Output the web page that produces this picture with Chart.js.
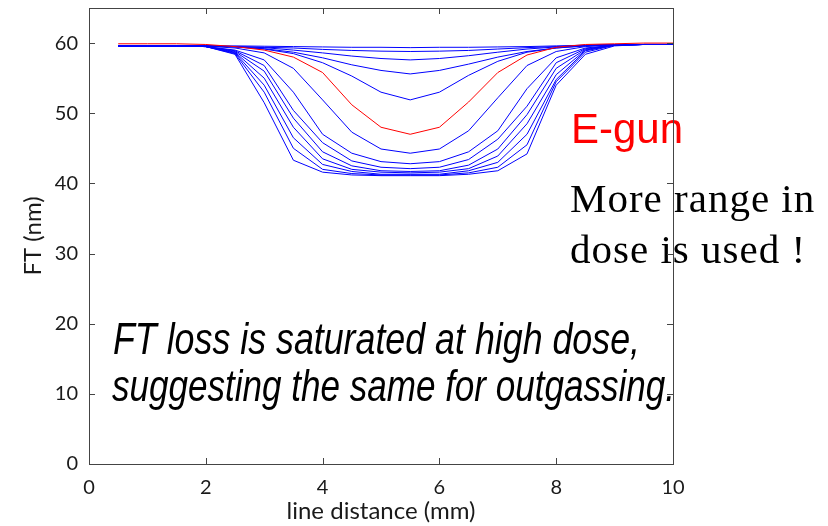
<!DOCTYPE html>
<html>
<head>
    <title>FT vs line distance</title>
    <script src="https://cdn.jsdelivr.net/npm/chart.js"></script>
    <style>
        body { margin: 0; background: white; }
        .wrap { width: 828px; height: 526px; }
    </style>
</head>
<body>
<div class="wrap"><canvas id="ftChart"></canvas></div>
<script>
// line distance (mm)
const distance = [0.5, 1.0, 1.5, 2.0, 2.5, 3.0, 3.5, 4.0, 4.5, 5.0, 5.5, 6.0, 6.5, 7.0, 7.5, 8.0, 8.5, 9.0, 9.5, 10.0];

// FT (nm), one profile per dose, low dose first
const ft01 = [59.6, 59.6, 59.6, 59.6, 59.6, 59.55, 59.5, 59.45, 59.4, 59.4, 59.35, 59.4, 59.4, 59.45, 59.5, 59.6, 59.7, 59.8, 59.8, 59.8];
const ft02 = [59.6, 59.6, 59.6, 59.6, 59.5, 59.4, 59.3, 59.1, 58.95, 58.85, 58.8, 58.85, 58.95, 59.15, 59.35, 59.5, 59.65, 59.75, 59.8, 59.8];
const ft03 = [59.6, 59.6, 59.6, 59.6, 59.5, 59.35, 59.0, 58.6, 58.15, 57.8, 57.6, 57.8, 58.2, 58.7, 59.15, 59.45, 59.65, 59.75, 59.8, 59.8];
const ft04 = [59.6, 59.6, 59.6, 59.6, 59.45, 59.2, 58.7, 57.9, 56.9, 56.1, 55.6, 56.1, 57.0, 58.0, 58.8, 59.3, 59.6, 59.75, 59.8, 59.8];
const ft05 = [59.6, 59.6, 59.6, 59.6, 59.45, 59.15, 58.5, 57.2, 55.3, 53.0, 51.9, 53.0, 55.4, 57.4, 58.7, 59.3, 59.6, 59.75, 59.8, 59.8];
const ft06 = [59.9, 59.9, 59.9, 59.8, 59.5, 59.0, 58.0, 55.8, 51.2, 48.0, 47.0, 48.0, 51.6, 55.8, 58.3, 59.4, 59.8, 59.9, 60.0, 60.0];
const ft07 = [59.6, 59.6, 59.6, 59.55, 59.3, 58.6, 56.4, 51.9, 47.3, 44.9, 44.3, 44.9, 47.5, 52.2, 56.8, 58.8, 59.5, 59.75, 59.8, 59.8];
const ft08 = [59.6, 59.6, 59.6, 59.5, 59.0, 57.6, 53.0, 47.0, 44.3, 43.1, 42.8, 43.1, 44.5, 47.5, 53.5, 57.9, 59.3, 59.7, 59.8, 59.8];
const ft09 = [59.6, 59.6, 59.6, 59.5, 58.9, 56.8, 50.4, 45.8, 43.2, 42.3, 42.1, 42.3, 43.4, 46.3, 51.0, 57.2, 59.2, 59.7, 59.8, 59.8];
const ft10 = [59.6, 59.6, 59.6, 59.5, 58.8, 56.0, 49.3, 44.5, 42.5, 41.8, 41.7, 41.8, 42.6, 44.9, 49.8, 56.4, 59.1, 59.7, 59.8, 59.8];
const ft11 = [59.6, 59.6, 59.6, 59.5, 58.7, 55.0, 48.0, 43.5, 42.0, 41.6, 41.5, 41.6, 42.1, 43.9, 48.5, 55.5, 59.0, 59.7, 59.8, 59.8];
const ft12 = [59.6, 59.6, 59.6, 59.5, 58.6, 54.0, 46.5, 42.7, 41.7, 41.3, 41.3, 41.3, 41.8, 43.0, 47.0, 54.8, 58.9, 59.7, 59.8, 59.8];
const ft13 = [59.6, 59.6, 59.6, 59.5, 58.5, 53.0, 45.0, 42.0, 41.4, 41.2, 41.2, 41.2, 41.5, 42.3, 45.5, 54.5, 58.7, 59.7, 59.8, 59.8];
const ft14 = [59.6, 59.6, 59.6, 59.5, 58.4, 51.5, 43.3, 41.6, 41.2, 41.1, 41.1, 41.1, 41.3, 41.8, 44.2, 54.0, 58.4, 59.6, 59.8, 59.8];

const profiles = [ft01, ft02, ft03, ft04, ft05, ft06, ft07, ft08, ft09, ft10, ft11, ft12, ft13, ft14];
const highlighted = 5; // ft06 is the red one

const xTicks = [0, 2, 4, 6, 8, 10];
const yTicks = [0, 10, 20, 30, 40, 50, 60];

const tickFont = { family: 'Lato, "Open Sans", sans-serif', size: 20 };
const titleFont = { family: 'Lato, "Open Sans", sans-serif', size: 24 };

const datasets = profiles.map((p, i) => ({
    data: p.map((v, k) => ({ x: distance[k], y: v })),
    borderColor: i === highlighted ? '#ff0000' : '#0000ff',
    borderWidth: 1,
    pointRadius: 0,
    showLine: true,
    fill: false,
    order: i === highlighted ? -1 : 0
}));

// notes written on the figure, box frame and inward ticks
const notes = {
    id: 'notes',
    afterDatasetsDraw(chart) {
        const ctx = chart.ctx;
        ctx.save();
        ctx.textAlign = 'left';
        ctx.textBaseline = 'alphabetic';

        ctx.fillStyle = '#000';
        ctx.font = 'italic 44px "Liberation Sans", Arial, sans-serif';
        ctx.fillText('FT loss is saturated at high dose,', 113, 354, 527);
        ctx.fillText('suggesting the same for outgassing.', 112, 401, 563);

        ctx.fillStyle = '#ff0000';
        ctx.font = '42px "Liberation Sans", Arial, sans-serif';
        ctx.fillText('E-gun', 571, 143);

        ctx.fillStyle = '#000';
        ctx.font = '41px "Liberation Serif", "Times New Roman", serif';
        ctx.letterSpacing = '1px';
        ctx.fillText('More range in', 570, 212);
        ctx.fillText('dose is used !', 570, 263);
        ctx.restore();
    },
    afterDraw(chart) {
        const { ctx, chartArea: a, scales: { x, y } } = chart;
        ctx.save();
        ctx.strokeStyle = '#444';
        ctx.lineWidth = 1;
        ctx.strokeRect(a.left + 0.5, a.top + 0.5, a.right - a.left, a.bottom - a.top);
        ctx.beginPath();
        xTicks.forEach(v => {
            const px = Math.round(x.getPixelForValue(v)) + 0.5;
            ctx.moveTo(px, a.bottom); ctx.lineTo(px, a.bottom - 6);
            ctx.moveTo(px, a.top); ctx.lineTo(px, a.top + 6);
        });
        yTicks.forEach(v => {
            const py = Math.round(y.getPixelForValue(v)) + 0.5;
            ctx.moveTo(a.left, py); ctx.lineTo(a.left + 6, py);
            ctx.moveTo(a.right, py); ctx.lineTo(a.right - 6, py);
        });
        ctx.stroke();
        ctx.restore();
    }
};

new Chart(document.getElementById('ftChart'), {
    type: 'scatter',
    data: { datasets },
    options: {
        responsive: true,
        maintainAspectRatio: false,
        animation: false,
        layout: { padding: { top: 8, right: 155, left: 0, bottom: 0 } },
        plugins: { legend: { display: false }, tooltip: { enabled: false } },
        scales: {
            x: {
                type: 'linear', min: 0, max: 10,
                afterBuildTicks: s => { s.ticks = xTicks.map(v => ({ value: v })); },
                afterFit: s => { s.height = 62; s.paddingLeft = 0; s.paddingRight = 0; },
                grid: { display: false, drawTicks: false },
                border: { display: false },
                ticks: { color: '#1a1a1a', font: tickFont, padding: 12 },
                title: { display: true, text: 'line distance (mm)', color: '#1a1a1a',
                         font: titleFont, padding: { bottom: 0 } }
            },
            y: {
                type: 'linear', min: 0, max: 65,
                afterBuildTicks: s => { s.ticks = yTicks.map(v => ({ value: v })); },
                afterFit: s => { s.width = 89; s.paddingTop = 0; s.paddingBottom = 0; },
                grid: { display: false, drawTicks: false },
                border: { display: false },
                ticks: { color: '#1a1a1a', font: tickFont, padding: 11 },
                title: { display: true, text: 'FT (nm)', color: '#1a1a1a',
                         font: titleFont, padding: { top: 19 } }
            }
        }
    },
    plugins: [notes]
});
</script>
</body>
</html>
